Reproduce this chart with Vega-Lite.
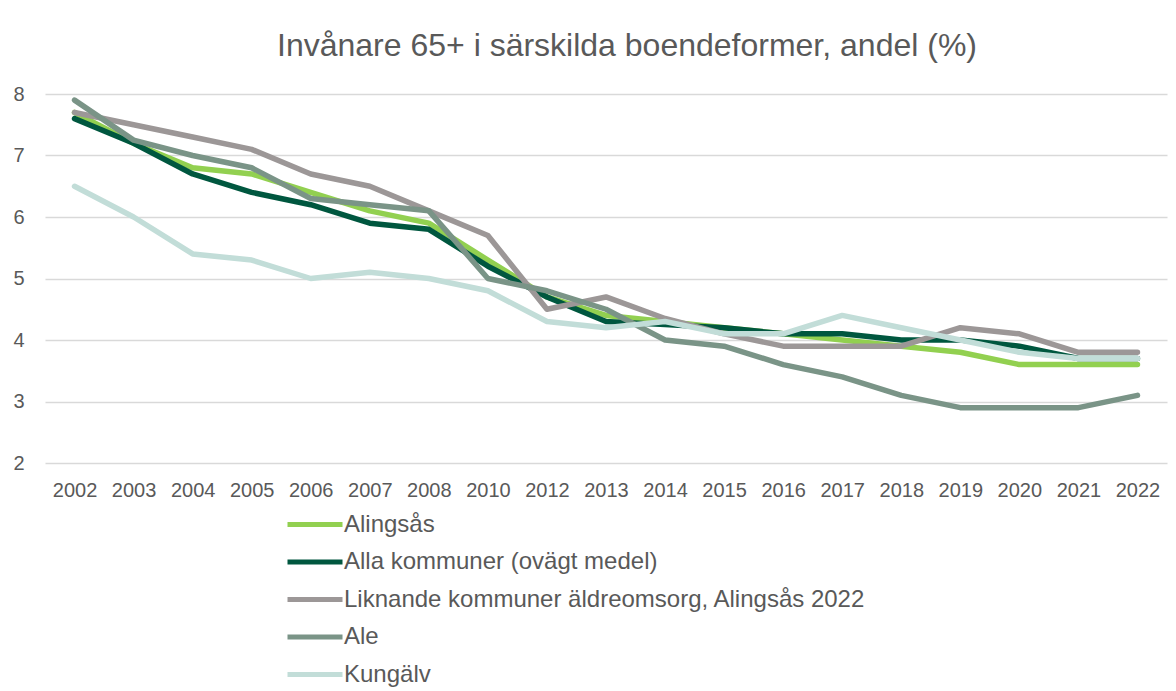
{
  "$schema": "https://vega.github.io/schema/vega-lite/v6.json",
  "width": 1122,
  "height": 369,
  "autosize": {"type": "none"},
  "padding": {"left": 45, "top": 94, "right": 9, "bottom": 228},
  "background": "white",
  "config": {
    "view": {"stroke": null},
    "font": "Liberation Sans"
  },
  "title": {
    "text": "Invånare 65+ i särskilda boendeformer, andel (%)",
    "fontSize": 32,
    "fontWeight": "normal",
    "color": "#595959",
    "font": "Liberation Sans",
    "anchor": "middle",
    "dx": 21,
    "offset": 21
  },
  "data": {
    "values": [
      {"year": "2002", "series": "Alingsås", "value": 7.7},
      {"year": "2003", "series": "Alingsås", "value": 7.2},
      {"year": "2004", "series": "Alingsås", "value": 6.8},
      {"year": "2005", "series": "Alingsås", "value": 6.7},
      {"year": "2006", "series": "Alingsås", "value": 6.4},
      {"year": "2007", "series": "Alingsås", "value": 6.1},
      {"year": "2008", "series": "Alingsås", "value": 5.9},
      {"year": "2010", "series": "Alingsås", "value": 5.3},
      {"year": "2012", "series": "Alingsås", "value": 4.7},
      {"year": "2013", "series": "Alingsås", "value": 4.4},
      {"year": "2014", "series": "Alingsås", "value": 4.3},
      {"year": "2015", "series": "Alingsås", "value": 4.2},
      {"year": "2016", "series": "Alingsås", "value": 4.1},
      {"year": "2017", "series": "Alingsås", "value": 4.0},
      {"year": "2018", "series": "Alingsås", "value": 3.9},
      {"year": "2019", "series": "Alingsås", "value": 3.8},
      {"year": "2020", "series": "Alingsås", "value": 3.6},
      {"year": "2021", "series": "Alingsås", "value": 3.6},
      {"year": "2022", "series": "Alingsås", "value": 3.6},
      {"year": "2002", "series": "Alla kommuner (ovägt medel)", "value": 7.6},
      {"year": "2003", "series": "Alla kommuner (ovägt medel)", "value": 7.2},
      {"year": "2004", "series": "Alla kommuner (ovägt medel)", "value": 6.7},
      {"year": "2005", "series": "Alla kommuner (ovägt medel)", "value": 6.4},
      {"year": "2006", "series": "Alla kommuner (ovägt medel)", "value": 6.2},
      {"year": "2007", "series": "Alla kommuner (ovägt medel)", "value": 5.9},
      {"year": "2008", "series": "Alla kommuner (ovägt medel)", "value": 5.8},
      {"year": "2010", "series": "Alla kommuner (ovägt medel)", "value": 5.2},
      {"year": "2012", "series": "Alla kommuner (ovägt medel)", "value": 4.7},
      {"year": "2013", "series": "Alla kommuner (ovägt medel)", "value": 4.3},
      {"year": "2014", "series": "Alla kommuner (ovägt medel)", "value": 4.25},
      {"year": "2015", "series": "Alla kommuner (ovägt medel)", "value": 4.2},
      {"year": "2016", "series": "Alla kommuner (ovägt medel)", "value": 4.1},
      {"year": "2017", "series": "Alla kommuner (ovägt medel)", "value": 4.1},
      {"year": "2018", "series": "Alla kommuner (ovägt medel)", "value": 4.0},
      {"year": "2019", "series": "Alla kommuner (ovägt medel)", "value": 4.0},
      {"year": "2020", "series": "Alla kommuner (ovägt medel)", "value": 3.9},
      {"year": "2021", "series": "Alla kommuner (ovägt medel)", "value": 3.7},
      {"year": "2022", "series": "Alla kommuner (ovägt medel)", "value": 3.7},
      {"year": "2002", "series": "Liknande kommuner äldreomsorg, Alingsås 2022", "value": 7.7},
      {"year": "2003", "series": "Liknande kommuner äldreomsorg, Alingsås 2022", "value": 7.5},
      {"year": "2004", "series": "Liknande kommuner äldreomsorg, Alingsås 2022", "value": 7.3},
      {"year": "2005", "series": "Liknande kommuner äldreomsorg, Alingsås 2022", "value": 7.1},
      {"year": "2006", "series": "Liknande kommuner äldreomsorg, Alingsås 2022", "value": 6.7},
      {"year": "2007", "series": "Liknande kommuner äldreomsorg, Alingsås 2022", "value": 6.5},
      {"year": "2008", "series": "Liknande kommuner äldreomsorg, Alingsås 2022", "value": 6.1},
      {"year": "2010", "series": "Liknande kommuner äldreomsorg, Alingsås 2022", "value": 5.7},
      {"year": "2012", "series": "Liknande kommuner äldreomsorg, Alingsås 2022", "value": 4.5},
      {"year": "2013", "series": "Liknande kommuner äldreomsorg, Alingsås 2022", "value": 4.7},
      {"year": "2014", "series": "Liknande kommuner äldreomsorg, Alingsås 2022", "value": 4.35},
      {"year": "2015", "series": "Liknande kommuner äldreomsorg, Alingsås 2022", "value": 4.1},
      {"year": "2016", "series": "Liknande kommuner äldreomsorg, Alingsås 2022", "value": 3.9},
      {"year": "2017", "series": "Liknande kommuner äldreomsorg, Alingsås 2022", "value": 3.9},
      {"year": "2018", "series": "Liknande kommuner äldreomsorg, Alingsås 2022", "value": 3.9},
      {"year": "2019", "series": "Liknande kommuner äldreomsorg, Alingsås 2022", "value": 4.2},
      {"year": "2020", "series": "Liknande kommuner äldreomsorg, Alingsås 2022", "value": 4.1},
      {"year": "2021", "series": "Liknande kommuner äldreomsorg, Alingsås 2022", "value": 3.8},
      {"year": "2022", "series": "Liknande kommuner äldreomsorg, Alingsås 2022", "value": 3.8},
      {"year": "2002", "series": "Ale", "value": 7.9},
      {"year": "2003", "series": "Ale", "value": 7.25},
      {"year": "2004", "series": "Ale", "value": 7.0},
      {"year": "2005", "series": "Ale", "value": 6.8},
      {"year": "2006", "series": "Ale", "value": 6.3},
      {"year": "2007", "series": "Ale", "value": 6.2},
      {"year": "2008", "series": "Ale", "value": 6.1},
      {"year": "2010", "series": "Ale", "value": 5.0},
      {"year": "2012", "series": "Ale", "value": 4.8},
      {"year": "2013", "series": "Ale", "value": 4.5},
      {"year": "2014", "series": "Ale", "value": 4.0},
      {"year": "2015", "series": "Ale", "value": 3.9},
      {"year": "2016", "series": "Ale", "value": 3.6},
      {"year": "2017", "series": "Ale", "value": 3.4},
      {"year": "2018", "series": "Ale", "value": 3.1},
      {"year": "2019", "series": "Ale", "value": 2.9},
      {"year": "2020", "series": "Ale", "value": 2.9},
      {"year": "2021", "series": "Ale", "value": 2.9},
      {"year": "2022", "series": "Ale", "value": 3.1},
      {"year": "2002", "series": "Kungälv", "value": 6.5},
      {"year": "2003", "series": "Kungälv", "value": 6.0},
      {"year": "2004", "series": "Kungälv", "value": 5.4},
      {"year": "2005", "series": "Kungälv", "value": 5.3},
      {"year": "2006", "series": "Kungälv", "value": 5.0},
      {"year": "2007", "series": "Kungälv", "value": 5.1},
      {"year": "2008", "series": "Kungälv", "value": 5.0},
      {"year": "2010", "series": "Kungälv", "value": 4.8},
      {"year": "2012", "series": "Kungälv", "value": 4.3},
      {"year": "2013", "series": "Kungälv", "value": 4.2},
      {"year": "2014", "series": "Kungälv", "value": 4.3},
      {"year": "2015", "series": "Kungälv", "value": 4.1},
      {"year": "2016", "series": "Kungälv", "value": 4.1},
      {"year": "2017", "series": "Kungälv", "value": 4.4},
      {"year": "2018", "series": "Kungälv", "value": 4.2},
      {"year": "2019", "series": "Kungälv", "value": 4.0},
      {"year": "2020", "series": "Kungälv", "value": 3.8},
      {"year": "2021", "series": "Kungälv", "value": 3.7},
      {"year": "2022", "series": "Kungälv", "value": 3.7}
    ]
  },
  "mark": {"type": "line", "strokeWidth": 5.5, "strokeCap": "round", "strokeJoin": "round"},
  "encoding": {
    "x": {
      "field": "year",
      "type": "ordinal",
      "scale": {"type": "point", "padding": 0.5},
      "axis": {
        "title": null,
        "labelAngle": 0,
        "domain": false,
        "ticks": false,
        "grid": false,
        "labelPadding": 17,
        "labelFontSize": 20,
        "labelColor": "#595959",
        "labelFont": "Liberation Sans"
      }
    },
    "y": {
      "field": "value",
      "type": "quantitative",
      "scale": {"domain": [2, 8], "nice": false, "zero": false},
      "axis": {
        "title": null,
        "values": [2, 3, 4, 5, 6, 7, 8],
        "domain": false,
        "ticks": false,
        "labelPadding": 21,
        "labelFontSize": 20,
        "labelColor": "#595959",
        "labelFont": "Liberation Sans",
        "gridColor": "#D9D9D9",
        "gridWidth": 1.5
      }
    },
    "color": {
      "field": "series",
      "type": "nominal",
      "sort": ["Alingsås", "Alla kommuner (ovägt medel)", "Liknande kommuner äldreomsorg, Alingsås 2022", "Ale", "Kungälv"],
      "scale": {
        "domain": ["Alingsås", "Alla kommuner (ovägt medel)", "Liknande kommuner äldreomsorg, Alingsås 2022", "Ale", "Kungälv"],
        "range": ["#92D050", "#00573F", "#9C9797", "#7A9487", "#C2DDD8"]
      },
      "legend": {
        "title": null,
        "orient": "none",
        "legendX": 240,
        "legendY": 413,
        "direction": "vertical",
        "symbolType": "M-1,0H2.667",
        "symbolSize": 900,
        "symbolStrokeWidth": 5,
        "labelOffset": 24,
        "labelFontSize": 24,
        "labelLimit": 0,
        "labelColor": "#595959",
        "labelFont": "Liberation Sans",
        "rowPadding": 7.5
      }
    }
  }
}
